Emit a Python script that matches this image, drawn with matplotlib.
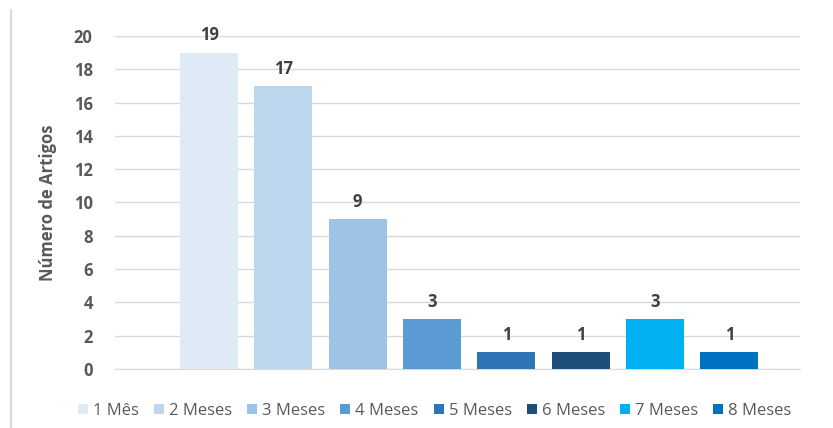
import matplotlib
matplotlib.use("Agg")
import matplotlib.pyplot as plt
from matplotlib.patches import Patch
from matplotlib.lines import Line2D

categories = ["1 Mês", "2 Meses", "3 Meses", "4 Meses", "5 Meses", "6 Meses", "7 Meses", "8 Meses"]
values = [19, 17, 9, 3, 1, 1, 3, 1]
colors = ["#DEEBF7", "#BDD7EE", "#9DC3E6", "#5B9BD5", "#2E75B6", "#1F4E79", "#00B0F0", "#0070C0"]
yticks = [0, 2, 4, 6, 8, 10, 12, 14, 16, 18, 20]

plt.rcParams['font.family'] = ['Open Sans', 'DejaVu Sans']

fig = plt.figure(figsize=(8.33, 4.28), dpi=100)
ax = fig.add_axes([115/833, 1-369/428, (800-115)/833, (369-36)/428])

x = list(range(len(categories)))
bars = ax.bar(x, values, width=0.78, color=colors, zorder=3)
for xi, v in zip(x, values):
    ax.text(xi, v + 0.5, str(v), ha='center', va='bottom', fontsize=12,
            fontweight='bold', color='#404040')

ax.set_xlim(-1.265, 7.95)
ax.set_ylim(0, 20)
ax.set_yticks(yticks)
ax.set_yticklabels([str(t) for t in yticks], fontsize=12, fontweight='bold', color='#595959')
ax.set_xticks([])
ax.tick_params(axis='y', length=0, pad=16)
ax.grid(axis='y', color='#D9D9D9', linewidth=1, zorder=0)
for s in ['top', 'right', 'left']:
    ax.spines[s].set_visible(False)
ax.spines['bottom'].set_color('#D9D9D9')
ax.set_ylabel("Número de Artigos", fontsize=12, fontweight='bold', color='#595959', labelpad=12)

handles = [Patch(facecolor=c, edgecolor='none') for c in colors]
fig.legend(handles, categories, loc='center', bbox_to_anchor=(0.522, 1-411/428), ncol=8,
           frameon=False, fontsize=12, handlelength=0.6, handleheight=0.6,
           handletextpad=0.3, columnspacing=0.9, labelcolor='#595959')

# left frame border line
fig.add_artist(Line2D([11/833, 11/833], [0, 1-10/428], color='#D9D9D9', linewidth=1.5,
                      transform=fig.transFigure))

fig.savefig("out.png", dpi=100)
